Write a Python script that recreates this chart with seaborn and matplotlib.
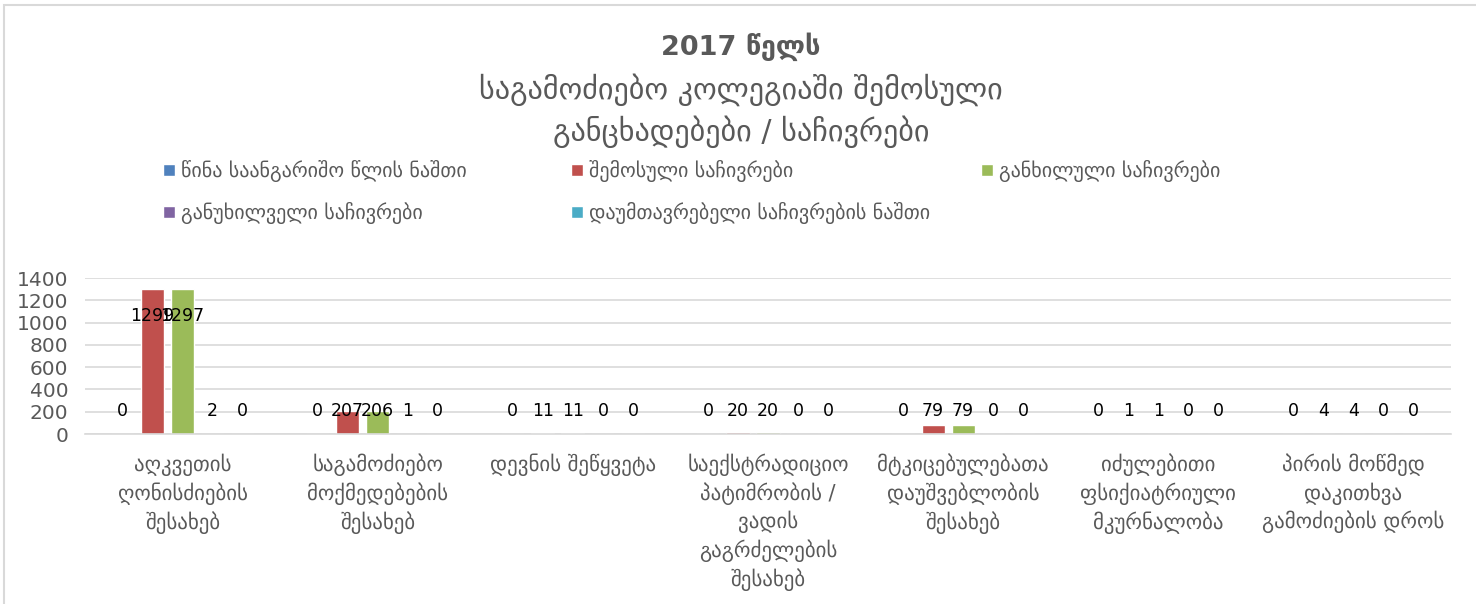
import pandas as pd
import matplotlib
matplotlib.use('Agg')
import matplotlib.pyplot as plt
import seaborn as sns
from matplotlib.patches import Rectangle

# data
categories = [
    'აღკვეთის\nღონისძიების\nშესახებ',
    'საგამოძიებო\nმოქმედებების\nშესახებ',
    'დევნის შეწყვეტა',
    'საექსტრადიციო\nპატიმრობის /\nვადის\nგაგრძელების\nშესახებ',
    'მტკიცებულებათა\nდაუშვებლობის\nშესახებ',
    'იძულებითი\nფსიქიატრიული\nმკურნალობა',
    'პირის მოწმედ\nდაკითხვა\nგამოძიების დროს',
]
series_names = [
    'წინა საანგარიშო წლის ნაშთი',
    'შემოსული საჩივრები',
    'განხილული საჩივრები',
    'განუხილველი საჩივრები',
    'დაუმთავრებელი საჩივრების ნაშთი',
]
prev_balance = [0, 0, 0, 0, 0, 0, 0]
received = [1299, 207, 11, 20, 79, 1, 4]
reviewed = [1297, 206, 11, 20, 79, 1, 4]
not_reviewed = [2, 1, 0, 0, 0, 0, 0]
unfinished = [0, 0, 0, 0, 0, 0, 0]
colors = ['#4F81BD', '#C0504D', '#9BBB59', '#8064A2', '#4BACC6']
yticks = [0, 200, 400, 600, 800, 1000, 1200, 1400]

rows = []
for name, vals in zip(series_names, [prev_balance, received, reviewed, not_reviewed, unfinished]):
    for cat, v in zip(categories, vals):
        rows.append({'cat': cat, 'series': name, 'value': v})
df = pd.DataFrame(rows)

sns.set_style('white')
plt.rcParams['font.family'] = ['DejaVu Sans']
gray = '#595959'

fig = plt.figure(figsize=(14.76, 6.04), dpi=100)
ax = fig.add_axes([85 / 1476, 1 - 434 / 604, (1451 - 85) / 1476, (434 - 278) / 604])

sns.barplot(data=df, x='cat', y='value', hue='series', palette=colors,
            width=0.77, gap=0.23, ax=ax, saturation=1, errorbar=None)

ax.set_ylim(0, 1400)
ax.set_yticks(yticks)
ax.yaxis.grid(True, color='#D9D9D9', lw=1.2)
ax.set_axisbelow(True)
for s in ['top', 'right', 'left']:
    ax.spines[s].set_visible(False)
ax.spines['bottom'].set_color('#D9D9D9')
ax.spines['bottom'].set_linewidth(1.2)
ax.set_xlabel('')
ax.set_ylabel('')
ax.tick_params(axis='both', length=0, colors=gray)
ax.tick_params(axis='y', labelsize=14.5, pad=12)
ax.tick_params(axis='x', pad=14, labelsize=15)
for t in ax.get_xticklabels():
    t.set_linespacing(1.36)
    t.set_va('top')

# data labels
for cont in ax.containers:
    for bar in cont:
        v = bar.get_height()
        ly = 1060 if v >= 1000 else 205
        ax.text(bar.get_x() + bar.get_width() / 2, ly, f'{int(v)}',
                ha='center', va='center', fontsize=12.5, color='black')

# legend in three columns like Excel
handles, labels = ax.get_legend_handles_labels()
ax.get_legend().remove()
col_x = [163, 571, 981]
col_items = [[0, 3], [1, 4], [2]]
for cx, items in zip(col_x, col_items):
    leg = fig.legend([handles[i] for i in items], [labels[i] for i in items],
                     loc='upper left', bbox_to_anchor=(cx / 1476, 1 - 160 / 604),
                     frameon=False, fontsize=14.4, handlelength=0.6, handleheight=0.6,
                     handletextpad=0.3, labelspacing=1.0, borderaxespad=0, borderpad=0)
    for t in leg.get_texts():
        t.set_color(gray)

# title
fig.text(741 / 1476, 1 - 47 / 604, '2017 წელს', ha='center', va='center',
         fontsize=19.5, fontweight='bold', color=gray)
fig.text(741 / 1476, 1 - 90 / 604, 'საგამოძიებო კოლეგიაში შემოსული', ha='center', va='center',
         fontsize=21.7, color=gray)
fig.text(741 / 1476, 1 - 132 / 604, 'განცხადებები / საჩივრები', ha='center', va='center',
         fontsize=21.7, color=gray)

# chart border
fig.patches.append(Rectangle((4 / 1476, -0.1), 1.2, 1 - 5 / 604 + 0.1, transform=fig.transFigure,
                             fill=False, edgecolor='#D9D9D9', lw=1.5))

fig.savefig('out.png', dpi=100)
